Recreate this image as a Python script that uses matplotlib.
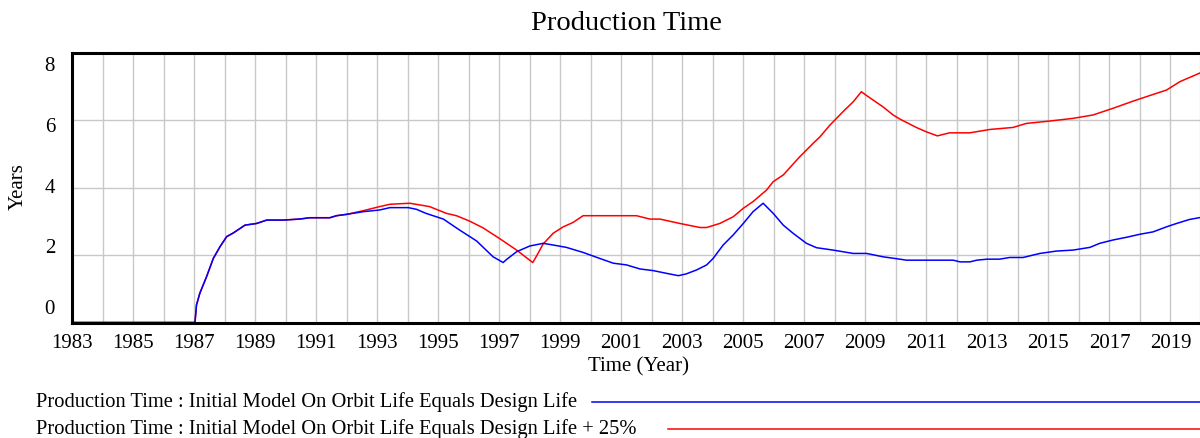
import matplotlib
matplotlib.use('Agg')
import matplotlib.pyplot as plt
from matplotlib.lines import Line2D
import numpy as np

plt.rcParams['font.family'] = ['Liberation Serif', 'DejaVu Serif']

# shared start-up segment (both runs identical until ~1992)
startup_years = [1983, 1987.03, 1987.08, 1987.19, 1987.41, 1987.63, 1987.85, 1988.07,
                 1988.29, 1988.67, 1989.05, 1989.38, 1989.92, 1990.45, 1990.8, 1991.45,
                 1991.67, 1992.0]
startup_values = [0, 0, 0.52, 0.87, 1.36, 1.90, 2.25, 2.55,
                  2.66, 2.89, 2.94, 3.04, 3.04, 3.07, 3.11, 3.11,
                  3.17, 3.21]

base_years = [1992.55, 1993.08, 1993.42, 1994.02, 1994.29, 1994.6, 1995.17, 1995.71,
              1996.26, 1996.8, 1997.13, 1997.24, 1997.57, 1998.0, 1998.44, 1998.77,
              1999.2, 1999.75, 2000.3, 2000.74, 2001.17, 2001.61, 2002.05, 2002.48,
              2002.87, 2003.12, 2003.47, 2003.8, 2004.01, 2004.34, 2004.67, 2005.0,
              2005.32, 2005.65, 2005.98, 2006.31, 2006.63, 2007.07, 2007.4, 2007.94,
              2008.6, 2009.04, 2009.58, 2010.13, 2010.35, 2011.88, 2012.1, 2012.43,
              2012.65, 2012.99, 2013.4, 2013.73, 2014.17, 2014.72, 2015.26, 2015.81,
              2016.36, 2016.68, 2017.12, 2017.56, 2018.0, 2018.43, 2018.87, 2019.2,
              2019.63, 2020.0]
base_values = [3.29, 3.34, 3.41, 3.41, 3.36, 3.24, 3.07, 2.74,
               2.42, 1.95, 1.78, 1.87, 2.10, 2.27, 2.35, 2.30,
               2.23, 2.08, 1.90, 1.76, 1.71, 1.59, 1.54, 1.46,
               1.39, 1.44, 1.56, 1.71, 1.90, 2.30, 2.60, 2.94,
               3.29, 3.54, 3.24, 2.89, 2.65, 2.35, 2.22, 2.15,
               2.05, 2.05, 1.95, 1.88, 1.85, 1.85, 1.80, 1.80,
               1.85, 1.88, 1.88, 1.93, 1.93, 2.05, 2.12, 2.15,
               2.23, 2.35, 2.45, 2.53, 2.62, 2.69, 2.84, 2.94,
               3.06, 3.12]

plus25_years = [1992.55, 1993.08, 1993.42, 1994.07, 1994.4, 1994.72, 1995.27, 1995.6,
                1996.03, 1996.47, 1997.0, 1997.57, 1998.1, 1998.21, 1998.44, 1998.77,
                1999.1, 1999.42, 1999.75, 2001.5, 2001.94, 2002.27, 2002.92, 2003.58,
                2003.8, 2004.23, 2004.67, 2005.0, 2005.32, 2005.76, 2005.98, 2006.31,
                2006.85, 2007.29, 2007.51, 2007.84, 2008.27, 2008.6, 2008.87, 2009.02,
                2009.58, 2009.91, 2010.13, 2010.67, 2011.0, 2011.36, 2011.76, 2012.42,
                2013.08, 2013.84, 2014.28, 2015.04, 2015.81, 2016.46, 2017.12, 2017.77,
                2018.43, 2018.87, 2019.31, 2020.0]
plus25_values = [3.32, 3.44, 3.51, 3.54, 3.49, 3.44, 3.24, 3.17,
                 3.01, 2.81, 2.50, 2.15, 1.78, 1.95, 2.33, 2.65,
                 2.84, 2.97, 3.17, 3.17, 3.07, 3.07, 2.94, 2.82,
                 2.82, 2.94, 3.14, 3.39, 3.59, 3.93, 4.18, 4.38,
                 4.92, 5.32, 5.51, 5.86, 6.26, 6.55, 6.85, 6.75,
                 6.40, 6.16, 6.04, 5.79, 5.66, 5.54, 5.63, 5.63,
                 5.73, 5.79, 5.91, 5.98, 6.06, 6.16, 6.36, 6.57,
                 6.77, 6.90, 7.15, 7.42]

series_labels = ['Production Time : Initial Model On Orbit Life Equals Design Life',
                 'Production Time : Initial Model On Orbit Life Equals Design Life + 25%']
x_ticks = list(range(1983, 2020, 2))
y_ticks = [0, 2, 4, 6, 8]

W, H = 1200, 438
fig = plt.figure(figsize=(W / 100, H / 100), dpi=100)
ax = fig.add_axes([72 / W, 1 - 322.5 / H, 1129 / W, 269.5 / H])

ax.plot(startup_years + plus25_years, startup_values + plus25_values, color='#ff0000', lw=1.1)
ax.plot(startup_years + base_years, startup_values + base_values, color='#0000ff', lw=1.1)

ax.set_xlim(1983, 2020)
ax.set_ylim(0, 8)
ax.set_xticks(range(1983, 2021))
ax.set_xticklabels([str(y) if y in x_ticks else '' for y in range(1983, 2021)], fontsize=15)
ax.set_yticks(y_ticks)
ax.set_yticklabels([])
ax.tick_params(length=0, pad=8)
ax.grid(True, color='#c8c8c8', lw=1.0)
ax.set_axisbelow(True)
for s in ax.spines.values():
    s.set_linewidth(2.2)
    s.set_color('black')

# y labels are spread evenly a bit inside the axis range
for frac, v in zip(np.linspace(0.049, 0.949, len(y_ticks)), y_ticks):
    ax.text(-17 / 1129, frac, str(v), transform=ax.transAxes, ha='right', va='center', fontsize=15)

fig.text(626 / W, 1 - 23 / H, 'Production Time', ha='center', va='center', fontsize=20.5)
fig.text(639 / W, 1 - 367 / H, 'Time (Year)', ha='center', va='center', fontsize=15)
fig.text(18 / W, 1 - 187 / H, 'Years', ha='center', va='center', rotation=90, fontsize=15)

# legend rows: label, then a sample line running to the right edge
legend_rows = [(402, 592, '#0000ff'), (429, 668, '#ff0000')]
for (py, line_start, col), label in zip(legend_rows, series_labels):
    fig.text(36 / W, 1 - py / H, label, ha='left', va='center', fontsize=14.8)
    fig.add_artist(Line2D([line_start / W, 1.0], [1 - py / H, 1 - py / H],
                          color=col, lw=1.1, transform=fig.transFigure))

fig.savefig('out.png', dpi=100)
